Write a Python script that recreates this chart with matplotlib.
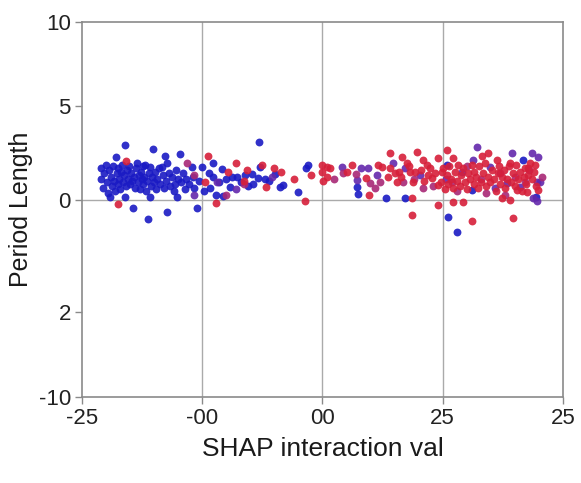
import numpy as np
import matplotlib.pyplot as plt

plt.rcParams['font.family'] = ['Liberation Sans', 'DejaVu Sans']

# tick values / labels as printed on the reference
x_ticks = [-25, -12.5, 0, 12.5, 25]
x_labels = ['-25', '-00', '00', '25', '25']
y_ticks = [10, 5.3, 0, -6.3, -11.07]
y_labels = ['10', '5', '0', '2', '-10']

# points, grouped by colour (blue -> violet -> magenta -> red)
blue_pts = [
    (-23.0, 1.8), (-23.0, 1.2), (-22.8, 0.7), (-22.7, 1.5), (-22.5, 2.0), (-22.4, 1.0), (-22.3, 0.4),
    (-22.2, 1.7), (-22.1, 0.17), (-22.0, 1.3), (-21.9, 0.8), (-21.8, 1.9), (-21.7, 1.1), (-21.6, 0.5),
    (-21.5, 2.4), (-21.4, 1.5), (-21.3, 0.9), (-21.2, 1.8), (-21.1, 1.2), (-21.0, 0.6), (-20.9, 1.6),
    (-20.8, 2.0), (-20.7, 1.0), (-20.6, 1.4), (-20.5, 3.1), (-20.5, 0.17), (-20.4, 0.8), (-20.3, 1.7),
    (-20.2, 1.2), (-20.1, 1.9), (-20.0, 0.9), (-19.9, 1.5), (-19.8, 1.1), (-19.7, -0.45), (-19.6, 1.3),
    (-19.5, 0.7), (-19.4, 1.8), (-19.3, 2.1), (-19.2, 1.0), (-19.1, 1.4), (-19.0, 0.6), (-18.9, 1.6),
    (-18.8, 1.2), (-18.7, 0.9), (-18.6, 1.9), (-18.5, 1.3), (-18.4, 2.0), (-18.3, 0.5), (-18.2, 1.1),
    (-18.1, -1.07), (-18.0, 1.5), (-17.9, 1.85), (-17.9, 0.17), (-17.8, 0.8), (-17.7, 1.3), (-17.6, 2.9),
    (-17.5, 1.0), (-17.4, 1.6), (-17.3, 0.6), (-17.2, 1.2), (-17.0, 1.8), (-16.9, 0.9), (-16.7, 1.85),
    (-16.6, 1.4), (-16.5, 0.7), (-16.4, 2.5), (-16.3, 1.1), (-16.2, 2.1), (-16.2, -0.67), (-16.0, 1.5),
    (-15.8, 0.8), (-15.6, 1.3), (-15.4, 0.5), (-15.3, 0.9), (-15.2, 1.7), (-15.1, 0.17), (-15.0, 1.2),
    (-14.8, 2.6), (-14.7, 1.0), (-14.5, 1.5), (-14.3, 0.6), (-14.2, 1.2), (-13.9, 0.9), (-13.6, 1.85),
    (-13.5, 1.3), (-13.3, 0.7), (-13.0, -0.45), (-12.8, 1.1), (-12.5, 1.85), (-12.3, 0.5),
    (-11.8, 1.5), (-11.7, 0.67), (-11.4, 2.1), (-11.4, 1.3), (-11.1, 0.28), (-10.8, 1.0), (-10.4, 1.74),
    (-10.3, 0.22), (-10.0, 1.2), (-9.6, 0.73), (-9.4, 1.3), (-8.9, 1.3), (-8.5, 1.0), (-8.0, 1.4),
    (-7.7, 0.8), (-7.3, 1.46), (-7.2, 0.9), (-6.7, 1.24), (-6.6, 3.26), (-6.5, 1.85), (-6.0, 1.2),
    (-5.6, 1.07), (-4.9, 1.46), (-4.4, 0.73), (-4.1, 0.84), (-2.5, 0.45), (-1.7, 1.8), (-1.5, 2.0),
    (3.6, 0.73), (3.7, 0.34), (6.6, 0.11), (8.6, 0.11), (12.9, 1.97), (13.0, -0.96), (14.0, -1.8),
    (15.5, 0.56), (20.8, 2.25), (22.2, 0.2),
]
violet_pts = [
    (-13.4, 0.28), (-11.0, 1.0), (-9.0, 0.6), (-5.2, 1.3), (2.0, 1.85), (3.6, 1.13), (4.0, 1.8),
    (4.7, 1.8), (5.7, 1.4), (7.3, 2.1), (16.1, 3.0), (15.6, 2.25), (17.4, 1.85), (19.7, 2.64),
    (21.8, 2.64), (22.4, 2.4), (22.3, 1.0), (22.6, 1.0), (21.9, 0.11), (22.3, -0.06), (17.9, 0.67),
    (19.2, 0.96), (20.5, 0.73), (10.1, 1.4), (8.6, 1.8), (14.5, 1.6), (12.8, 1.2),
]
magenta_pts = [
    (-14.1, 2.1), (-13.3, 1.4), (-10.0, 0.3), (-8.2, 0.9), (2.1, 1.5), (3.5, 1.46), (4.9, 0.96),
    (5.5, 0.67), (8.4, 1.0), (1.2, 1.2), (6.0, 1.0), (11.5, 0.8), (13.5, 1.0), (16.5, 1.2),
    (18.5, 1.5), (20.0, 1.3), (21.0, 1.0), (14.0, 0.5), (17.0, 0.4), (19.0, 0.3), (10.5, 0.7),
    (9.5, 1.2), (15.0, 1.9), (21.5, 1.7), (22.8, 1.3),
]
red_pts = [
    (-21.3, -0.22), (-20.4, 2.2), (-12.2, 1.0), (-11.9, 2.5), (-11.1, -0.17), (-9.8, 1.6), (-9.0, 2.1),
    (-8.2, 1.1), (-7.8, 1.7), (-6.3, 2.0), (-5.9, 0.73), (-5.0, 1.8), (-4.3, 1.57), (-3.0, 1.18),
    (-1.8, -0.06), (-1.2, 1.4), (0.0, 1.97), (0.0, 1.57), (0.05, 1.07), (0.5, 1.85), (0.8, 1.8),
    (0.5, 1.3), (2.6, 1.6), (3.1, 1.97), (4.5, 1.24), (4.8, 0.28), (5.8, 2.0), (6.2, 1.85), (6.8, 1.3),
    (7.0, 2.64), (7.0, 1.8), (7.5, 1.5), (7.7, 1.0), (8.0, 1.6), (8.2, 1.3), (8.3, 2.4), (8.8, 2.1),
    (9.0, 1.9), (9.3, 0.11), (9.3, -0.84), (9.1, 1.57), (9.4, 1.0), (9.6, 1.6), (9.8, 2.7),
    (10.2, 1.7), (10.4, 2.25), (10.6, 1.1), (10.9, 1.97), (11.0, 1.4), (11.2, 1.8), (11.4, 1.24),
    (11.7, 1.5), (12.0, 2.36), (12.0, 0.84), (12.0, -0.28), (12.4, 1.57),
    (12.9, 2.8), (13.6, 2.36), (16.6, 2.5), (17.2, 2.64), (18.1, 2.25), (19.5, 2.1), (22.1, 1.97),
    (21.4, 1.8), (22.4, 0.56), (21.3, 0.45), (20.2, 0.56), (19.5, 0.0), (18.7, 0.11), (19.8, -1.0),
    (15.5, -1.2), (13.6, -0.11), (14.6, -0.11),
    (12.3, 1.0), (12.5, 1.8), (12.7, 0.6), (12.9, 1.4), (13.1, 0.9), (13.2, 1.9), (13.4, 1.2),
    (13.6, 0.7), (13.8, 1.6), (14.0, 1.1), (14.1, 2.0), (14.3, 0.8), (14.4, 1.4), (14.6, 1.8),
    (14.8, 1.0), (15.0, 0.6), (15.1, 1.5), (15.3, 1.2), (15.5, 2.0), (15.7, 0.9), (15.8, 1.6),
    (16.0, 1.3), (16.2, 0.7), (16.3, 1.9), (16.5, 1.0), (16.7, 1.5), (16.9, 2.1), (17.0, 0.8),
    (17.2, 1.3), (17.4, 1.0), (17.6, 1.7), (17.8, 1.2), (18.0, 0.5), (18.2, 1.5), (18.3, 1.9),
    (18.5, 0.9), (18.7, 1.3), (18.9, 1.7), (19.0, 0.7), (19.2, 1.2), (19.4, 1.9), (19.6, 1.0),
    (19.8, 1.5), (20.0, 0.8), (20.1, 2.0), (20.3, 1.2), (20.5, 1.6), (20.7, 0.5), (20.9, 1.3),
    (21.1, 1.8), (21.2, 0.9), (21.4, 1.4), (21.6, 2.1), (21.8, 1.2), (22.0, 1.6), (22.2, 0.8),
]

groups = [
    (blue_pts, '#1a1ac4'),
    (violet_pts, '#6428ac'),
    (magenta_pts, '#a82876'),
    (red_pts, '#d61f3a'),
]

fig = plt.figure(figsize=(5.81, 4.83), dpi=100)
ax = fig.add_axes([0.141, 0.178, 0.828, 0.776])

for pts, col in groups:
    arr = np.array(pts)
    ax.scatter(arr[:, 0], arr[:, 1], s=32, color=col, alpha=0.9, linewidths=0, zorder=3)

ax.set_xlim(-25, 25)
ax.set_ylim(-11.07, 10)
ax.set_xticks(x_ticks)
ax.set_xticklabels(x_labels)
ax.set_yticks(y_ticks)
ax.set_yticklabels(y_labels)

# gridlines only at inner x ticks and at y = 0
for xv in x_ticks[1:-1]:
    ax.axvline(xv, color='#aaaaaa', lw=1.0, zorder=1)
ax.axhline(0, color='#aaaaaa', lw=1.0, zorder=1)

for sp in ax.spines.values():
    sp.set_color('#8a8a8a')
    sp.set_linewidth(1.2)
ax.tick_params(axis='both', colors='#8a8a8a', length=5, width=1, labelsize=16,
               labelcolor='#222222', pad=3)

ax.set_xlabel('SHAP interaction val', fontsize=19, color='#1a1a1a', labelpad=6)
ax.set_ylabel('Period Length', fontsize=18, color='#1a1a1a', labelpad=4)

fig.savefig('out.png', dpi=100)
